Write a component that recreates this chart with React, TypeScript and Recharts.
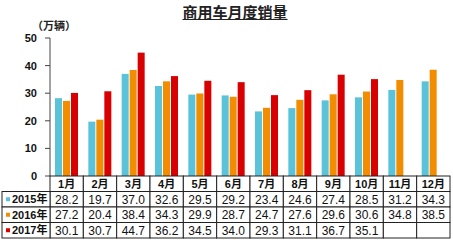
import React from "react";
import { BarChart, Bar, XAxis, YAxis } from "recharts";

if (typeof document !== "undefined") document.body.style.margin = "0";

const months = ["1月", "2月", "3月", "4月", "5月", "6月", "7月", "8月", "9月", "10月", "11月", "12月"];
const y2015 = [28.2, 19.7, 37.0, 32.6, 29.5, 29.2, 23.4, 24.6, 27.4, 28.5, 31.2, 34.3];
const y2016 = [27.2, 20.4, 38.4, 34.3, 29.9, 28.7, 24.7, 27.6, 29.6, 30.6, 34.8, 38.5];
const y2017: (number | null)[] = [30.1, 30.7, 44.7, 36.2, 34.5, 34.0, 29.3, 31.1, 36.7, 35.1, null, null];
const seriesNames = ["2015年", "2016年", "2017年"];
const yTicks = [0, 10, 20, 30, 40, 50];
const title = "商用车月度销量";
const unit = "（万辆）";

const colors = ["#5bc3d9", "#f28c00", "#d80000"];

const data = months.map((m, i) => ({ month: m, a: y2015[i], b: y2016[i], c: y2017[i] }));
const seriesValues = [y2015, y2016, y2017];

const W = 453;
const H = 245;
const M = { top: 38, right: 3, left: 0, bottom: 7 };
const YW = 50;
const ROW = 15.5;
const TABLE_LEFT = 2;
const COLW = (W - M.left - M.right - YW) / months.length;
const FONT = '"Liberation Sans", Arial, "Noto Sans CJK SC", sans-serif';
const BORDER = "#222";

const TableTick = (props: any) => {
  const { x, y, index } = props;
  const left = x - COLW / 2;
  const cells: React.ReactNode[] = [];
  cells.push(
    <rect key="h" x={left} y={y} width={COLW} height={ROW} fill="#fff" stroke={BORDER} strokeWidth={1} />
  );
  cells.push(
    <text key="ht" x={x} y={y + ROW / 2 + 4} textAnchor="middle" fontSize={11} fontWeight="bold" fill="#111" fontFamily={FONT}>
      {months[index]}
    </text>
  );
  seriesValues.forEach((vals, r) => {
    const ry = y + ROW * (r + 1);
    const v = vals[index];
    cells.push(
      <rect key={"r" + r} x={left} y={ry} width={COLW} height={ROW} fill="#fff" stroke={BORDER} strokeWidth={1} />
    );
    if (v !== null && v !== undefined) {
      cells.push(
        <text key={"t" + r} x={x} y={ry + ROW / 2 + 4.5} textAnchor="middle" fontSize={12} fill="#111" fontFamily={FONT}>
          {v.toFixed(1)}
        </text>
      );
    }
    if (index === 0) {
      const lw = left - TABLE_LEFT;
      cells.push(
        <rect key={"l" + r} x={TABLE_LEFT} y={ry} width={lw} height={ROW} fill="#fff" stroke={BORDER} strokeWidth={1} />
      );
      cells.push(
        <rect key={"m" + r} x={TABLE_LEFT + 4} y={ry + ROW / 2 - 2} width={4} height={4} fill={colors[r]} />
      );
      cells.push(
        <text key={"lt" + r} x={TABLE_LEFT + 10} y={ry + ROW / 2 + 4} fontSize={11} fontWeight="bold" fill="#111" fontFamily={FONT}>
          {seriesNames[r]}
        </text>
      );
    }
  });
  return <g>{cells}</g>;
};

export default function App() {
  return (
    <div style={{ position: "relative", width: W, height: H, background: "#fff" }}>
      <div
        style={{
          position: "absolute",
          left: 0,
          width: 470,
          top: 3,
          textAlign: "center",
          fontFamily: '"Noto Sans CJK SC", sans-serif',
          fontWeight: "bold",
          fontSize: 15,
          lineHeight: "18px",
          color: "#222",
          textDecoration: "underline",
        }}
      >
        {title}
      </div>
      <div
        style={{
          position: "absolute",
          left: 32,
          top: 20,
          fontFamily: '"Noto Sans CJK SC", sans-serif',
          fontWeight: "bold",
          fontSize: 11,
          lineHeight: "11px",
          color: "#222",
        }}
      >
        {unit}
      </div>
      <BarChart width={W} height={H} data={data} margin={M} barSize={7} barGap={1}>
        <XAxis
          dataKey="month"
          height={ROW * 4}
          axisLine={false}
          tickLine={false}
          tickSize={0}
          tickMargin={0}
          interval={0}
          tick={<TableTick />}
        />
        <YAxis
          width={YW}
          domain={[0, 50]}
          ticks={yTicks}
          tickSize={5}
          tickMargin={8}
          stroke="#444"
          tick={{ fill: "#111", fontSize: 11, fontWeight: "bold", fontFamily: FONT }}
        />
        <Bar dataKey="a" fill={colors[0]} isAnimationActive={false} />
        <Bar dataKey="b" fill={colors[1]} isAnimationActive={false} />
        <Bar dataKey="c" fill={colors[2]} isAnimationActive={false} />
      </BarChart>
    </div>
  );
}
